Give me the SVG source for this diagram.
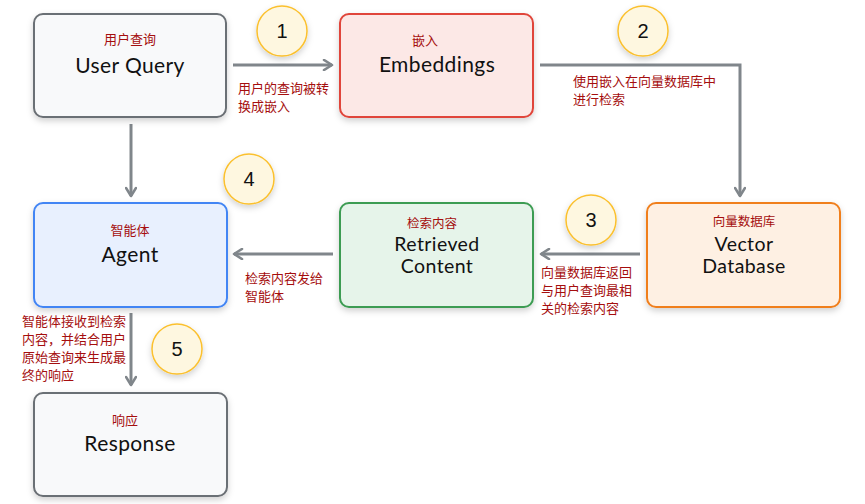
<svg xmlns="http://www.w3.org/2000/svg" width="865" height="504" viewBox="0 0 865 504">
<defs>
<filter id="sh" x="-20%" y="-20%" width="140%" height="150%">
<feDropShadow dx="0" dy="3" stdDeviation="3" flood-color="#000" flood-opacity="0.18"/>
</filter>
<marker id="ah" viewBox="0 0 12 12" refX="10" refY="6" markerWidth="12" markerHeight="12" markerUnits="userSpaceOnUse" orient="auto">
<path d="M2,1 L10,6 L2,11" fill="none" stroke="#80868b" stroke-width="2.6" stroke-linecap="round" stroke-linejoin="round"/>
</marker>
</defs>
<style>
.box{stroke-width:2}
.sub{font-family:"Noto Sans CJK SC","Noto Sans",sans-serif;font-size:13px;fill:#a50e0e;text-anchor:middle}
.title{font-family:Lato,"Open Sans",sans-serif;font-size:21px;letter-spacing:0.4px;fill:#111;text-anchor:middle}
.t2{font-size:19.5px}
.s2{font-size:12.5px}
.lbl{font-family:"Noto Sans CJK SC","Noto Sans",sans-serif;font-size:13px;fill:#a50e0e}
.conn{fill:none;stroke:#80868b;stroke-width:3;marker-end:url(#ah)}
.num circle{fill:#fef7e0;stroke:#fbc02d;stroke-width:1.5}
.num text{font-family:"Liberation Sans",Arial,sans-serif;font-size:20px;fill:#111;text-anchor:middle}
</style>
<rect width="865" height="504" fill="#fff"/>
<g id="connectors">
<path class="conn" d="M233,65 H332"/>
<path class="conn" d="M540,65 H740 V196"/>
<path class="conn" d="M640,254 H541"/>
<path class="conn" d="M333,254 H234"/>
<path class="conn" d="M131,124 V196"/>
<path class="conn" d="M131,313 V385"/>
<text class="lbl" x="238" y="93">用户的查询被转</text>
<text class="lbl" x="238" y="111">换成嵌入</text>
<text class="lbl" x="573" y="86">使用嵌入在向量数据库中</text>
<text class="lbl" x="573" y="104">进行检索</text>
<text class="lbl" x="541" y="277">向量数据库返回</text>
<text class="lbl" x="541" y="295">与用户查询最相</text>
<text class="lbl" x="541" y="313">关的检索内容</text>
<text class="lbl" x="245" y="283">检索内容发给</text>
<text class="lbl" x="245" y="301">智能体</text>
<text class="lbl" x="22" y="326">智能体接收到检索</text>
<text class="lbl" x="22" y="344">内容，并结合用户</text>
<text class="lbl" x="22" y="362">原始查询来生成最</text>
<text class="lbl" x="22" y="380">终的响应</text>
</g>
<g id="user-query">
<rect class="box" x="34" y="14" width="192" height="103" rx="9" fill="#f8f9fa" stroke="#6b6f74" filter="url(#sh)"/>
<text class="sub" x="130" y="44">用户查询</text>
<text class="title" x="130" y="73">User Query</text>
</g>
<g id="embeddings">
<rect class="box" x="340" y="14" width="193" height="103" rx="9" fill="#fce8e6" stroke="#e0453a" filter="url(#sh)"/>
<text class="sub" x="425" y="45">嵌入</text>
<text class="title" x="437" y="72">Embeddings</text>
</g>
<g id="vector-database">
<rect class="box" x="647" y="203" width="193" height="104" rx="9" fill="#fef0e3" stroke="#f07f1e" filter="url(#sh)"/>
<text class="sub s2" x="744" y="226">向量数据库</text>
<text class="title t2" x="744" y="251">Vector</text>
<text class="title t2" x="744" y="273">Database</text>
</g>
<g id="retrieved-content">
<rect class="box" x="340" y="203" width="193" height="104" rx="9" fill="#e6f4ea" stroke="#3c9c52" filter="url(#sh)"/>
<text class="sub s2" x="432" y="228">检索内容</text>
<text class="title t2" x="437" y="251">Retrieved</text>
<text class="title t2" x="437" y="273">Content</text>
</g>
<g id="agent">
<rect class="box" x="34" y="203" width="193" height="104" rx="9" fill="#e8f0fe" stroke="#4285f4" filter="url(#sh)"/>
<text class="sub" x="130" y="235">智能体</text>
<text class="title" x="130" y="262">Agent</text>
</g>
<g id="response">
<rect class="box" x="34" y="393" width="193" height="103" rx="9" fill="#f8f9fa" stroke="#6b6f74" filter="url(#sh)"/>
<text class="sub" x="125" y="425">响应</text>
<text class="title" x="130" y="451">Response</text>
</g>
<g id="step-1" class="num"><circle cx="282" cy="31" r="25" filter="url(#sh)"/><text x="282" y="38">1</text></g>
<g id="step-2" class="num"><circle cx="643" cy="31" r="25" filter="url(#sh)"/><text x="643" y="38">2</text></g>
<g id="step-3" class="num"><circle cx="591" cy="220" r="25" filter="url(#sh)"/><text x="591" y="227">3</text></g>
<g id="step-4" class="num"><circle cx="249" cy="179" r="25" filter="url(#sh)"/><text x="249" y="186">4</text></g>
<g id="step-5" class="num"><circle cx="177" cy="349" r="25" filter="url(#sh)"/><text x="177" y="356">5</text></g>
</svg>
